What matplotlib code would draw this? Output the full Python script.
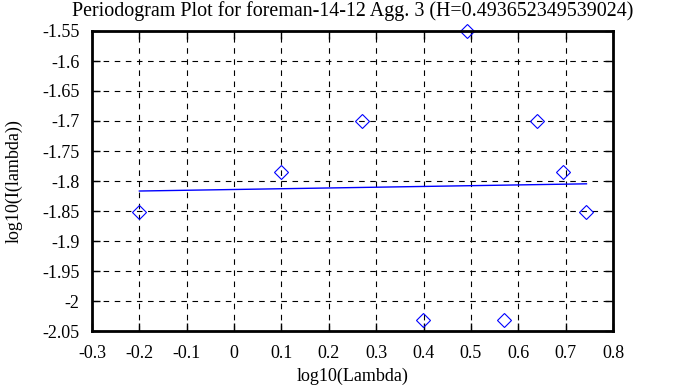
import matplotlib
matplotlib.use("Agg")
import matplotlib.pyplot as plt

# periodogram points (log10 lambda, log10 I(lambda))
log_lambda = [-0.2, 0.1, 0.27, 0.398, 0.491, 0.569, 0.639, 0.694, 0.744]
log_I = [-1.852, -1.785, -1.70, -2.032, -1.55, -2.032, -1.70, -1.785, -1.852]

# least squares fit endpoints
fit_x = [-0.2, 0.744]
fit_y = [-1.8167, -1.8047]

xticks = [-0.3, -0.2, -0.1, 0, 0.1, 0.2, 0.3, 0.4, 0.5, 0.6, 0.7, 0.8]
xlabels = ["-0.3", "-0.2", "-0.1", "0", "0.1", "0.2", "0.3", "0.4", "0.5", "0.6", "0.7", "0.8"]
yticks = [-2.05, -2.0, -1.95, -1.9, -1.85, -1.8, -1.75, -1.7, -1.65, -1.6, -1.55]
ylabels = ["-2.05", "-2", "-1.95", "-1.9", "-1.85", "-1.8", "-1.75", "-1.7", "-1.65", "-1.6", "-1.55"]

plt.rcParams['font.family'] = ['Liberation Serif', 'DejaVu Serif']
plt.rcParams['font.size'] = 13

fig = plt.figure(figsize=(6.73, 3.87), dpi=100)
ax = fig.add_axes([92 / 673, 1 - 331 / 387, 521 / 673, 300 / 387])

ax.plot(fit_x, fit_y, color='blue', linewidth=1)
ax.plot(log_lambda, log_I, linestyle='none', marker='D', markersize=7,
        markerfacecolor='none', markeredgecolor='blue', markeredgewidth=0.8,
        clip_on=False)

ax.set_xlim(-0.3, 0.8)
ax.set_ylim(-2.05, -1.55)
ax.set_xticks(xticks)
ax.set_xticklabels(xlabels)
ax.set_yticks(yticks)
ax.set_yticklabels(ylabels)
ax.grid(True, color='black', linestyle=(0, (5, 5)), linewidth=0.8)
ax.tick_params(direction='in', length=6, width=1, top=True, right=True)
ax.tick_params(axis='x', pad=10)
ax.tick_params(axis='y', pad=9)
for s in ax.spines.values():
    s.set_linewidth(2)

ax.set_title('Periodogram Plot for foreman-14-12 Agg. 3 (H=0.493652349539024)',
             fontsize=14.4, pad=11)
ax.set_xlabel('log10(Lambda)', labelpad=4)
ax.set_ylabel('log10(I(lambda))', labelpad=14)

fig.savefig("out.png", dpi=100)
